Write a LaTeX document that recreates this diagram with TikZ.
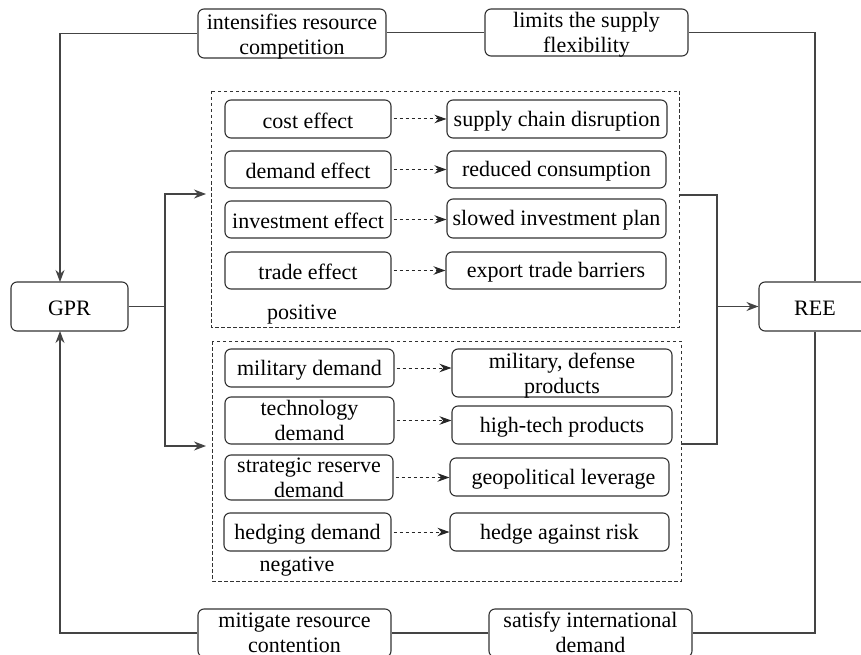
\documentclass[tikz,border=0pt]{standalone}
\usepackage{fontspec}
\setmainfont{Liberation Serif}
\usetikzlibrary{arrows.meta}
\definecolor{linec}{HTML}{444444}
\definecolor{boxc}{HTML}{333333}
% struts: fixed height and depth of a one-line label, and of the outer lines of a two-line label
\newcommand\lnstrut{\rule[-1pt]{0pt}{20.5pt}}
\newcommand\bistrut{\rule[-7pt]{0pt}{24pt}}
\tikzset{
  frame/.style={draw=boxc, line width=1.1pt, rounded corners=6pt, inner sep=0pt},
  box/.style={frame, align=center, font=\fontsize{22}{25}\selectfont, text=black,
    execute at begin node=\lnstrut, execute at end node=\lnstrut},
  twotext/.style={align=center, inner sep=0pt, font=\fontsize{22}{25}\selectfont,
    text=black},
  group/.style={draw=boxc, line width=0.9pt, dash pattern=on 3.5pt off 2.5pt},
  link/.style={draw=linec, line width=1.2pt},
  tip/.style={-{Stealth[length=12pt,width=9pt]}},
  dashlink/.style={draw=black!85, line width=1pt, dash pattern=on 3.5pt off 2.5pt,
    -{Stealth[length=12pt,width=8.5pt]}},
  tag/.style={font=\fontsize{22}{25}\selectfont, inner sep=0pt,
    execute at begin node=\lnstrut}
}
% two-line box: name, x, y, width, height, first line, second line, text shift
\newcommand\twobox[8]{%
  \node[frame, minimum width=#4pt, minimum height=#5pt] (#1) at (#2,#3) {};
  \node[twotext] (#1-t) at ([yshift=#8pt]#1.center) {\bistrut #6\\#7\bistrut};}
\begin{document}
\begin{tikzpicture}[x=1pt,y=-1pt]
\useasboundingbox (0,0) rectangle (861,655);
\clip (0,0) rectangle (861,655);

% main nodes
\node[box, minimum width=117pt, minimum height=49pt] (gpr) at (69.5,306.5) {GPR};
\node[box, minimum width=112pt, minimum height=49pt] (ree) at (815,306.5) {REE};

% feedback boxes
\twobox{inten}{292}{33.5}{188}{49}{intensifies resource}{competition}{-3.5}
\twobox{limits}{586.5}{32.5}{203}{47}{limits the supply}{flexibility}{-2.5}
\twobox{mitig}{294.5}{633}{193}{48}{mitigate resource}{contention}{-1.5}
\twobox{satis}{590.5}{633}{203}{48}{satisfy international}{demand}{-1.5}

% group frames
\draw[group] (211,91) rectangle (679,327);
\draw[group] (212,341) rectangle (681,581);
\coordinate (posR) at (679,195);
\coordinate (negR) at (681,444);

% positive group
\node[box, minimum width=166pt, minimum height=38pt] (cost) at (308,119) {cost effect};
\node[box, minimum width=220pt, minimum height=38pt] (scd) at (557,119) {supply chain disruption};
\node[box, minimum width=166pt, minimum height=37pt] (dem) at (308,169.5) {demand effect};
\node[box, minimum width=219pt, minimum height=37pt] (rc) at (556.5,169.5) {reduced consumption};
\node[box, minimum width=166pt, minimum height=37pt] (inv) at (308,219.5) {investment effect};
\node[box, minimum width=219pt, minimum height=39pt] (sip) at (556.5,218.5) {slowed investment plan};
\node[box, minimum width=166pt, minimum height=37pt] (trade) at (308,270.5) {trade effect};
\node[box, minimum width=220pt, minimum height=37pt] (etb) at (556,270.5) {export trade barriers};
\node[tag] (pos) at (302,312) {positive};

% negative group
\node[box, minimum width=169pt, minimum height=38pt] (mil) at (309.5,368) {military demand};
\twobox{mdp}{562}{373}{220}{48}{military, defense}{products}{-2.5}
\twobox{tech}{309.5}{420.5}{169}{47}{technology}{demand}{-2}
\node[box, minimum width=220pt, minimum height=38pt] (htp) at (562,425) {high-tech products};
\twobox{srd}{309}{477.5}{168}{45}{strategic reserve}{demand}{-2}
\node[box, minimum width=219pt, minimum height=38pt] (gl) at (559.5,477) {\hspace*{8pt}geopolitical leverage};
\node[box, minimum width=167pt, minimum height=38pt] (hed) at (307.5,532) {hedging demand};
\node[box, minimum width=219pt, minimum height=38pt] (har) at (559.5,532) {hedge against risk};
\node[tag] (neg) at (297,564.5) {negative};

% dashed links inside groups
\foreach \a/\b in {cost/scd, dem/rc, inv/sip, trade/etb, mil/mdp, tech/htp, srd/gl, hed/har}
  \draw[dashlink] ([xshift=2pt]\a.east) -- (\a.east -| \b.west);

% GPR fan-out into both groups
\coordinate (split) at (165,306.5);
\coordinate (posL) at (206,194);
\coordinate (negL) at (206,446);
\draw[link] (gpr.east) -- (split);
\draw[link, tip] (split) |- (posL);
\draw[link, tip] (split) |- (negL);

% groups merge into REE
\coordinate (mergeT) at (717,195);
\coordinate (mergeB) at (717,444);
\coordinate (mergeM) at (717,306.5);
\draw[link] (posR) -- (mergeT) -- (mergeB) -- (negR);
\draw[link, tip] (mergeM) -- (ree.west);

% upper feedback loop
\coordinate (gtop) at (60,282);
\draw[link] (ree.north) |- (limits.east);
\draw[link] (limits.west) -- (limits.west -| inten.east);
\draw[link, tip] (inten.west) -| (gtop);

% lower feedback loop
\coordinate (gbot) at (60,331);
\draw[link] (ree.south) |- (satis.east);
\draw[link] (satis.west) -- (satis.west -| mitig.east);
\draw[link, tip] (mitig.west) -| (gbot);
\end{tikzpicture}
\end{document}
